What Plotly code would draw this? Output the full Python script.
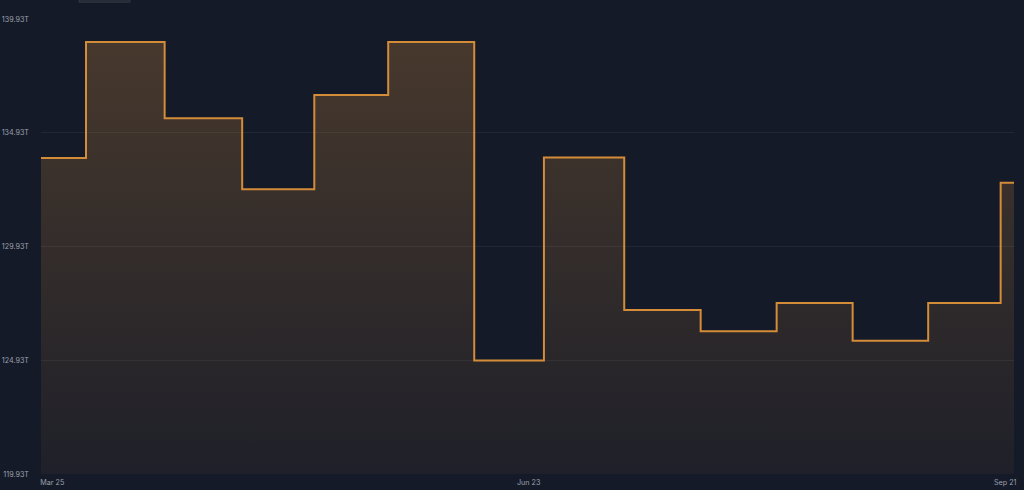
import plotly.graph_objects as go

# Step change timestamps (first = start of series, last = end of series)
dates = [
    "2025-03-22 21:00", "2025-03-31 09:00", "2025-04-15 05:30", "2025-04-29 21:00",
    "2025-05-13 12:00", "2025-05-27 11:00", "2025-06-12 17:00", "2025-06-25 21:00",
    "2025-07-11 01:00", "2025-07-25 11:30", "2025-08-08 20:00", "2025-08-23 04:30",
    "2025-09-06 11:00", "2025-09-20 03:30", "2025-09-22 16:00",
]
# Difficulty values in T (value in effect from each timestamp)
values = [
    133.82, 138.92, 135.57, 132.45, 136.59, 138.92, 124.92, 133.84,
    127.14, 126.20, 127.45, 125.79, 127.45, 132.73, 132.73,
]
tick_dates = ["2025-03-25", "2025-06-23", "2025-09-21"]
tick_labels = ["Mar 25", "Jun 23", "Sep 21"]
y_ticks = [119.93, 124.93, 129.93, 134.93, 139.93]
y_tick_labels = ["119.93T", "124.93T", "129.93T", "134.93T", "139.93T"]

BG = "#151a28"
LINE = "#d48c38"
GRID = "#222735"
TXT = "#9ba0ac"

fig = go.Figure()
fig.add_trace(go.Scatter(
    x=dates, y=values, mode="lines", line_shape="hv",
    line=dict(color=LINE, width=2),
    fill="tozeroy",
    fillgradient=dict(
        type="vertical", start=119.93, stop=139.93,
        colorscale=[[0, "rgba(214,143,58,0.05)"], [1, "rgba(214,143,58,0.27)"]],
    ),
    hoverinfo="skip", showlegend=False,
))

fig.update_layout(
    width=1024, height=490,
    paper_bgcolor=BG, plot_bgcolor=BG,
    margin=dict(l=41, r=10, t=19, b=16, autoexpand=False),
    font=dict(family="Inter, Noto Sans, sans-serif", size=7, color=TXT),
    xaxis=dict(
        range=[dates[0], dates[-1]], tickvals=tick_dates, ticktext=tick_labels,
        showgrid=False, zeroline=False, showline=False, automargin=False,
        ticklabelstandoff=3, tickfont=dict(size=7.2, color=TXT),
    ),
    yaxis=dict(
        range=[119.93, 139.93], tickvals=y_ticks, ticktext=y_tick_labels,
        showgrid=True, gridcolor=GRID, gridwidth=1, zeroline=False, showline=False,
        automargin=False,
        ticklabelstandoff=11, tickfont=dict(size=7.2, color=TXT),
    ),
    shapes=[dict(
        type="rect", xref="paper", yref="paper",
        x0=0.039, x1=0.0915, y0=1.037, y1=1.06,
        fillcolor="#262b38", line=dict(color="#323745", width=1), layer="above",
    )],
)

fig.write_html(
    "out.html",
    config={"displayModeBar": False},
    post_script="document.body.style.margin='0';document.body.style.background='#151a28';",
)
